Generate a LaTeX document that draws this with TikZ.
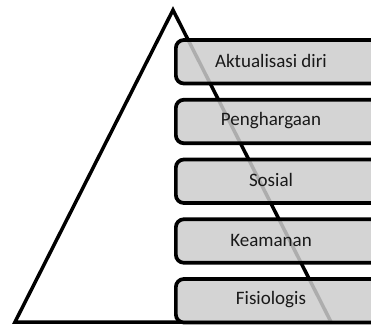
\documentclass[tikz,border=0pt]{standalone}
\usepackage{fontspec}
\setmainfont{Carlito}
\begin{document}
\begin{tikzpicture}[x=1pt,y=-1pt,
  tri/.style={draw=black,line width=3.5pt,line join=miter},
  lvl/.style={draw=black,line width=3.7pt,fill=black!20,fill opacity=0.85,
    rounded corners=8pt,minimum width=260pt,minimum height=43.5pt,
    anchor=west,inner sep=0pt},
  lbl/.style={font=\fontsize{19}{22}\selectfont,text=black!90,inner sep=0pt}]
\useasboundingbox (0,0) rectangle (371,325);
\clip (0,0) rectangle (371,325);
\path (15,322) coordinate (bl) (173,10) coordinate (apex) (331,322) coordinate (br);
\draw[tri] (bl) -- (apex) -- (br) -- cycle;
\node[lvl] (b1) at (174,61.75) {};
\node[lvl] (b2) at (174,121.5) {};
\node[lvl] (b3) at (174,181.25) {};
\node[lvl] (b4) at (174,241) {};
\node[lvl] (b5) at (174,300.75) {};
\node[lbl] (t1) at ([xshift=97pt,yshift=1pt]b1.west) {Aktualisasi diri};
\node[lbl] (t2) at ([xshift=97pt,yshift=1pt]b2.west) {Penghargaan};
\node[lbl] (t3) at ([xshift=97pt,yshift=1pt]b3.west) {Sosial};
\node[lbl] (t4) at ([xshift=97pt,yshift=1pt]b4.west) {Keamanan};
\node[lbl] (t5) at ([xshift=97pt,yshift=1pt]b5.west) {Fisiologis};
\end{tikzpicture}
\end{document}
